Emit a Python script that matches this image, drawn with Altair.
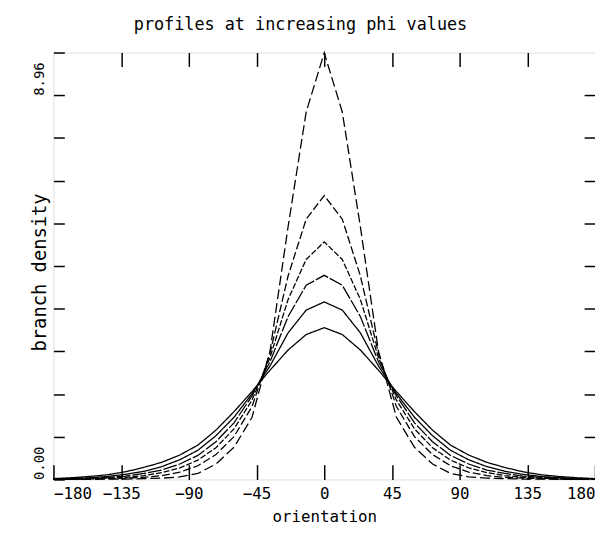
import altair as alt
import pandas as pd

# orientation bins (degrees)
orientation = [-180, -168, -156, -144, -132, -120, -108, -96, -84, -72, -60, -48, -36, -24, -12,
               0, 12, 24, 36, 48, 60, 72, 84, 96, 108, 120, 132, 144, 156, 168, 180]

series_names = ["phi 1", "phi 2", "phi 3", "phi 4", "phi 5", "phi 6"]

phi1 = [0.0, 0.0, 0.0, 0.01, 0.01, 0.02, 0.03, 0.06, 0.14, 0.36, 0.75, 1.45, 3.0, 5.9, 8.57,
        9.95, 8.57, 5.9, 3.0, 1.45, 0.75, 0.36, 0.14, 0.06, 0.03, 0.02, 0.01, 0.01, 0.0, 0.0, 0.0]
phi2 = [0.0, 0.0, 0.01, 0.02, 0.03, 0.05, 0.09, 0.17, 0.32, 0.58, 1.0, 1.7, 2.95, 4.75, 6.07,
        6.62, 6.07, 4.75, 2.95, 1.7, 1.0, 0.58, 0.32, 0.17, 0.09, 0.05, 0.03, 0.02, 0.01, 0.0, 0.0]
phi3 = [0.01, 0.01, 0.02, 0.03, 0.05, 0.09, 0.16, 0.27, 0.45, 0.74, 1.18, 1.85, 2.85, 4.2, 5.13,
        5.54, 5.13, 4.2, 2.85, 1.85, 1.18, 0.74, 0.45, 0.27, 0.16, 0.09, 0.05, 0.03, 0.02, 0.01, 0.01]
phi4 = [0.01, 0.02, 0.03, 0.05, 0.08, 0.14, 0.22, 0.36, 0.56, 0.88, 1.32, 1.95, 2.75, 3.8, 4.53,
        4.76, 4.53, 3.8, 2.75, 1.95, 1.32, 0.88, 0.56, 0.36, 0.22, 0.14, 0.08, 0.05, 0.03, 0.02, 0.01]
phi5 = [0.01, 0.02, 0.04, 0.07, 0.12, 0.19, 0.3, 0.46, 0.68, 1.02, 1.45, 2.0, 2.65, 3.42, 3.95,
        4.14, 3.95, 3.42, 2.65, 2.0, 1.45, 1.02, 0.68, 0.46, 0.3, 0.19, 0.12, 0.07, 0.04, 0.02, 0.01]
phi6 = [0.02, 0.04, 0.07, 0.11, 0.18, 0.28, 0.4, 0.57, 0.8, 1.15, 1.58, 2.05, 2.55, 3.02, 3.38,
        3.54, 3.38, 3.02, 2.55, 2.05, 1.58, 1.15, 0.8, 0.57, 0.4, 0.28, 0.18, 0.11, 0.07, 0.04, 0.02]

x_tick_values = [-180, -135, -90, -45, 0, 45, 90, 135, 180]
x_inner_ticks = [-135, -90, -45, 0, 45, 90, 135]
y_max = 9.956
y_tick_values = [0.0, 0.9956, 1.9912, 2.9868, 3.9824, 4.978, 5.9736, 6.9692, 7.9648, 8.9604, 9.956]

series_values = [phi1, phi2, phi3, phi4, phi5, phi6]
rows = []
for name, vals in zip(series_names, series_values):
    for x, v in zip(orientation, vals):
        rows.append({"orientation": x, "density": v, "series": name})
df = pd.DataFrame(rows)

FONT = "DejaVu Sans Mono"

xscale = alt.Scale(domain=[-180, 180], nice=False, zero=False)
yscale = alt.Scale(domain=[0, y_max], nice=False, zero=True)
dash = alt.StrokeDash(
    "series:N",
    scale=alt.Scale(domain=series_names,
                    range=[[10, 4], [8, 3], [6, 2], [14, 2], [1, 0], [1, 0]]),
    legend=None,
)

label_expr = ("abs(datum.value - 0) < 0.01 ? '0.00' : "
              "(abs(datum.value - 8.96) < 0.01 ? '8.96' : '')")

lines = alt.Chart(df).mark_line(color="black", strokeWidth=1.3).encode(
    x=alt.X("orientation:Q", scale=xscale,
            axis=alt.Axis(orient="bottom", values=x_tick_values, offset=-15, tickSize=15,
                          domain=False, grid=False, tickColor="black", tickWidth=1.5,
                          labelFont=FONT, labelFontSize=16, labelColor="black",
                          labelPadding=6, labelFlush=True,
                          title="orientation", titleFont=FONT, titleFontSize=16,
                          titleFontWeight="normal", titleColor="black",
                          titleY=53, titleBaseline="middle")),
    y=alt.Y("density:Q", scale=yscale,
            axis=alt.Axis(orient="left", values=y_tick_values, offset=-11, tickSize=11,
                          domain=False, grid=False, tickColor="black", tickWidth=1.5,
                          labelExpr=label_expr, labelAngle=270, labelAlign="left",
                          labelBaseline="middle", labelPadding=14,
                          labelFont=FONT, labelFontSize=14, labelColor="black",
                          title="branch density", titleFont=FONT, titleFontSize=19,
                          titleFontWeight="normal", titleColor="black",
                          titleAngle=270, titleAlign="center", titleBaseline="middle",
                          titleX=-25, titleY=222)),
    detail="series:N",
    strokeDash=dash,
)

frame_axes = alt.Chart(df).mark_line(strokeOpacity=0).encode(
    x=alt.X("orientation:Q", scale=xscale,
            axis=alt.Axis(orient="top", values=x_inner_ticks, offset=-14, tickSize=14,
                          domain=False, grid=False, labels=False, title=None,
                          tickColor="black", tickWidth=1.5)),
    y=alt.Y("density:Q", scale=yscale,
            axis=alt.Axis(orient="right", values=y_tick_values[1:-1], offset=-11,
                          tickSize=11, domain=False, grid=False, labels=False,
                          title=None, tickColor="black", tickWidth=1.5)),
    detail="series:N",
)

chart = alt.layer(lines, frame_axes).resolve_axis(
    x="independent", y="independent"
).properties(
    width=548,
    height=432,
    padding={"left": 46, "top": 42, "right": 0, "bottom": 43},
    autosize=alt.AutoSizeParams(type="none"),
    title=alt.TitleParams(text="profiles at increasing phi values", font=FONT,
                          fontSize=17, fontWeight="normal", color="black",
                          anchor="middle", frame="group", offset=18, dx=-24, dy=15,
                          baseline="alphabetic"),
).configure_view(stroke="black", strokeWidth=1.5).configure(background="white")

chart.save("out.html", embed_options={"renderer": "svg", "actions": False})
